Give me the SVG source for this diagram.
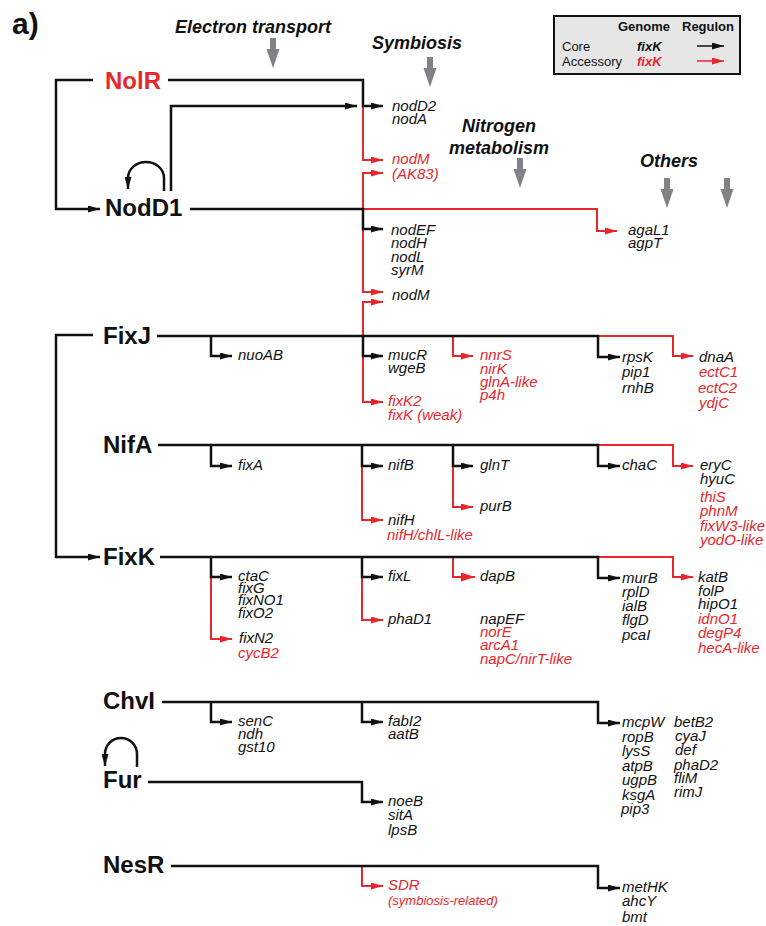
<svg xmlns="http://www.w3.org/2000/svg" width="766" height="926" viewBox="0 0 766 926">
<defs>
<style>
text{font-family:"Liberation Sans",Arial,sans-serif;}
.g{font-size:15px;font-style:italic;fill:#111;}
.reg{font-size:24px;font-weight:bold;fill:#111;}
.hdr{font-size:18px;font-weight:bold;font-style:italic;fill:#111;}
.lg{font-size:13px;fill:#111;}
text.rd{fill:#e8262b;}
.kb{stroke:#111;stroke-width:2.5;fill:none;}
.kr{stroke:#e8262b;stroke-width:2;fill:none;}
.ma{marker-end:url(#ab);}
.mr{marker-end:url(#ar);}
.gray{fill:#808285;}
</style>
<marker id="ab" viewBox="0 0 12 7" refX="12" refY="3.5" markerWidth="12" markerHeight="7" markerUnits="userSpaceOnUse" orient="auto"><path d="M0,0 L12,3.5 L0,7 z" fill="#111"/></marker>
<marker id="ar" viewBox="0 0 12 7" refX="12" refY="3.5" markerWidth="12" markerHeight="7" markerUnits="userSpaceOnUse" orient="auto"><path d="M0,0 L12,3.5 L0,7 z" fill="#e8262b"/></marker>
<marker id="arb" viewBox="0 0 14 9" refX="14" refY="4.5" markerWidth="14" markerHeight="9" markerUnits="userSpaceOnUse" orient="auto"><path d="M0,0 L14,4.5 L0,9 z" fill="#e8262b"/></marker>
<path id="garrow" d="M-3,0 H3 V11 H6.5 L0,30 L-6.5,11 H-3 z"/>
</defs>

<text x="12" y="34" style="font-size:30px;font-weight:bold;fill:#111;">a)</text>

<g id="headers">
<text class="hdr" x="253" y="33" text-anchor="middle">Electron transport</text>
<use href="#garrow" x="273" y="38" class="gray"/>
<text class="hdr" x="417" y="49" text-anchor="middle">Symbiosis</text>
<use href="#garrow" x="430" y="57" class="gray"/>
<text class="hdr" x="499" y="132" text-anchor="middle">Nitrogen</text>
<text class="hdr" x="499" y="154" text-anchor="middle">metabolism</text>
<use href="#garrow" x="520" y="158" class="gray"/>
<text class="hdr" x="669" y="167" text-anchor="middle">Others</text>
<use href="#garrow" x="667" y="178" class="gray"/>
<use href="#garrow" x="727" y="178" class="gray"/>
</g>

<g id="legend">
<rect x="554" y="16" width="186" height="58" fill="#e6e6e6" stroke="#111" stroke-width="2"/>
<text class="lg" x="618" y="31" font-weight="bold">Genome</text>
<text class="lg" x="682" y="31" font-weight="bold">Regulon</text>
<text class="lg" x="562" y="51">Core</text>
<text class="lg" x="637" y="51" font-weight="bold" font-style="italic">fixK</text>
<line x1="697" y1="46" x2="724" y2="46" stroke="#111" stroke-width="1.5" marker-end="url(#ab)"/>
<text class="lg" x="562" y="66">Accessory</text>
<text class="lg rd" x="637" y="66" font-weight="bold" font-style="italic">fixK</text>
<line x1="697" y1="61" x2="724" y2="61" stroke="#e8262b" stroke-width="1.5" marker-end="url(#ar)"/>
</g>

<g id="connectors">
<!-- red (accessory) -->
<path class="kr mr" d="M363,106 V160 H383"/>
<path class="kr mr" d="M363,209 V173 H383"/>
<path class="kr mr" d="M363,209 V292 H383"/>
<path class="kr mr" d="M363,209 H597 V231 H617"/>
<path class="kr mr" d="M363,336 V302 H383"/>
<path class="kr mr" d="M363,336 V402 H383"/>
<path class="kr mr" d="M453,336 V356 H473"/>
<path class="kr mr" d="M598,336 H673 V356 H693"/>
<path class="kr mr" d="M362,466 V520 H383"/>
<path class="kr mr" d="M453,466 V507 H473"/>
<path class="kr mr" d="M598,445 H673 V466 H693"/>
<path class="kr mr" d="M211,577 V639 H232"/>
<path class="kr mr" d="M362,577 V620 H383"/>
<path class="kr" d="M453,557 V577 H475" marker-end="url(#arb)"/>
<path class="kr mr" d="M598,557 H673 V577 H693"/>
<path class="kr mr" d="M362,866 V886 H383"/>
<!-- black (core) -->
<path class="kb ma" d="M93,80 H56 V209 H100"/>
<path class="kb ma" d="M168,80 H363 V106 H383"/>
<path class="kb ma" d="M171,191 V106 H357"/>
<path class="kb ma" d="M164,191 V178 A18,16 0 0 0 128,178 V189"/>
<path class="kb ma" d="M190,209 H363 V229 H383"/>
<path class="kb ma" d="M93,335 H56 V557 H100"/>
<path class="kb ma" d="M157,336 H598 V357 H620"/>
<path class="kb ma" d="M211,336 V356 H232"/>
<path class="kb ma" d="M363,336 V356 H383"/>
<path class="kb ma" d="M158,445 H598 V466 H620"/>
<path class="kb ma" d="M211,445 V466 H232"/>
<path class="kb ma" d="M362,445 V466 H383"/>
<path class="kb ma" d="M453,445 V466 H473"/>
<path class="kb ma" d="M160,557 H598 V578 H620"/>
<path class="kb ma" d="M211,557 V577 H232"/>
<path class="kb ma" d="M362,557 V577 H383"/>
<path class="kb ma" d="M162,702 H598 V723 H620"/>
<path class="kb ma" d="M211,702 V722 H232"/>
<path class="kb ma" d="M362,702 V722 H383"/>
<path class="kb ma" d="M137,767 V754 A16,16 0 0 0 105,754 V766"/>
<path class="kb ma" d="M148,782 H362 V802 H383"/>
<path class="kb ma" d="M171,866 H598 V888 H620"/>
</g>

<g id="NolR"><text class="reg rd" x="105" y="89">NolR</text></g>
<g id="NodD1"><text class="reg" x="105" y="216">NodD1</text></g>
<g id="FixJ"><text class="reg" x="103" y="344">FixJ</text></g>
<g id="NifA"><text class="reg" x="103" y="453">NifA</text></g>
<g id="FixK"><text class="reg" x="103" y="565">FixK</text></g>
<g id="ChvI"><text class="reg" x="103" y="709">ChvI</text></g>
<g id="Fur"><text class="reg" x="103" y="788">Fur</text></g>
<g id="NesR"><text class="reg" x="103" y="873">NesR</text></g>

<g id="nodD2">
<text class="g" x="392" y="111">nodD2</text>
<text class="g" x="392" y="124">nodA</text>
</g>
<g id="nodM-AK83">
<text class="g rd" x="392" y="164">nodM</text>
<text class="g rd" x="392" y="179">(AK83)</text>
</g>
<g id="nodEF">
<text class="g" x="391" y="235">nodEF</text>
<text class="g" x="391" y="248">nodH</text>
<text class="g" x="391" y="262">nodL</text>
<text class="g" x="391" y="275">syrM</text>
</g>
<g id="nodM"><text class="g" x="392" y="300">nodM</text></g>
<g id="agaL1">
<text class="g" x="628" y="235">agaL1</text>
<text class="g" x="628" y="248">agpT</text>
</g>

<g id="nuoAB"><text class="g" x="238" y="360">nuoAB</text></g>
<g id="mucR">
<text class="g" x="388" y="360">mucR</text>
<text class="g" x="388" y="373">wgeB</text>
</g>
<g id="fixK2">
<text class="g rd" x="388" y="406">fixK2</text>
<text class="g rd" x="388" y="420">fixK (weak)</text>
</g>
<g id="nnrS">
<text class="g rd" x="480" y="360">nnrS</text>
<text class="g rd" x="480" y="374">nirK</text>
<text class="g rd" x="480" y="387">glnA-like</text>
<text class="g rd" x="480" y="400">p4h</text>
</g>
<g id="rpsK">
<text class="g" x="622" y="362">rpsK</text>
<text class="g" x="622" y="377">pip1</text>
<text class="g" x="622" y="393">rnhB</text>
</g>
<g id="dnaA">
<text class="g" x="699" y="362">dnaA</text>
<text class="g rd" x="699" y="377">ectC1</text>
<text class="g rd" x="698" y="393">ectC2</text>
<text class="g rd" x="699" y="408">ydjC</text>
</g>

<g id="fixA"><text class="g" x="238" y="470">fixA</text></g>
<g id="nifB"><text class="g" x="388" y="470">nifB</text></g>
<g id="nifH">
<text class="g" x="388" y="525">nifH</text>
<text class="g rd" x="387" y="540">nifH/chlL-like</text>
</g>
<g id="glnT"><text class="g" x="480" y="470">glnT</text></g>
<g id="purB"><text class="g" x="480" y="511">purB</text></g>
<g id="chaC"><text class="g" x="622" y="470">chaC</text></g>
<g id="eryC">
<text class="g" x="700" y="470">eryC</text>
<text class="g" x="700" y="484">hyuC</text>
<text class="g rd" x="700" y="502">thiS</text>
<text class="g rd" x="700" y="516">phnM</text>
<text class="g rd" x="700" y="531">fixW3-like</text>
<text class="g rd" x="700" y="545">yodO-like</text>
</g>

<g id="ctaC">
<text class="g" x="238" y="581">ctaC</text>
<text class="g" x="238" y="593">fixG</text>
<text class="g" x="238" y="605">fixNO1</text>
<text class="g" x="238" y="618">fixO2</text>
</g>
<g id="fixN2">
<text class="g" x="239" y="643">fixN2</text>
<text class="g rd" x="238" y="658">cycB2</text>
</g>
<g id="fixL"><text class="g" x="388" y="581">fixL</text></g>
<g id="phaD1"><text class="g" x="388" y="624">phaD1</text></g>
<g id="dapB"><text class="g" x="480" y="581">dapB</text></g>
<g id="napEF">
<text class="g" x="480" y="624">napEF</text>
<text class="g rd" x="480" y="637">norE</text>
<text class="g rd" x="480" y="650">arcA1</text>
<text class="g rd" x="480" y="664">napC/nirT-like</text>
</g>
<g id="murB">
<text class="g" x="622" y="583">murB</text>
<text class="g" x="622" y="597">rplD</text>
<text class="g" x="622" y="611">ialB</text>
<text class="g" x="622" y="625">flgD</text>
<text class="g" x="622" y="640">pcaI</text>
</g>
<g id="katB">
<text class="g" x="698" y="582">katB</text>
<text class="g" x="698" y="596">folP</text>
<text class="g" x="698" y="609">hipO1</text>
<text class="g rd" x="698" y="624">idnO1</text>
<text class="g rd" x="698" y="638">degP4</text>
<text class="g rd" x="698" y="653">hecA-like</text>
</g>

<g id="senC">
<text class="g" x="238" y="726">senC</text>
<text class="g" x="238" y="739">ndh</text>
<text class="g" x="238" y="752">gst10</text>
</g>
<g id="fabI2">
<text class="g" x="388" y="726">fabI2</text>
<text class="g" x="388" y="739">aatB</text>
</g>
<g id="mcpW">
<text class="g" x="622" y="727">mcpW</text>
<text class="g" x="622" y="742">ropB</text>
<text class="g" x="622" y="756">lysS</text>
<text class="g" x="622" y="771">atpB</text>
<text class="g" x="622" y="785">ugpB</text>
<text class="g" x="622" y="800">ksgA</text>
<text class="g" x="621" y="814">pip3</text>
<text class="g" x="674" y="727">betB2</text>
<text class="g" x="675" y="741">cyaJ</text>
<text class="g" x="675" y="755">def</text>
<text class="g" x="674" y="770">phaD2</text>
<text class="g" x="674" y="783">fliM</text>
<text class="g" x="674" y="797">rimJ</text>
</g>

<g id="noeB">
<text class="g" x="388" y="806">noeB</text>
<text class="g" x="388" y="820">sitA</text>
<text class="g" x="388" y="835">lpsB</text>
</g>

<g id="SDR">
<text class="g rd" x="388" y="890">SDR</text>
<text class="g rd" x="388" y="905" style="font-size:13px">(symbiosis-related)</text>
</g>
<g id="metHK">
<text class="g" x="622" y="892">metHK</text>
<text class="g" x="622" y="906">ahcY</text>
<text class="g" x="622" y="922">bmt</text>
</g>
</svg>
